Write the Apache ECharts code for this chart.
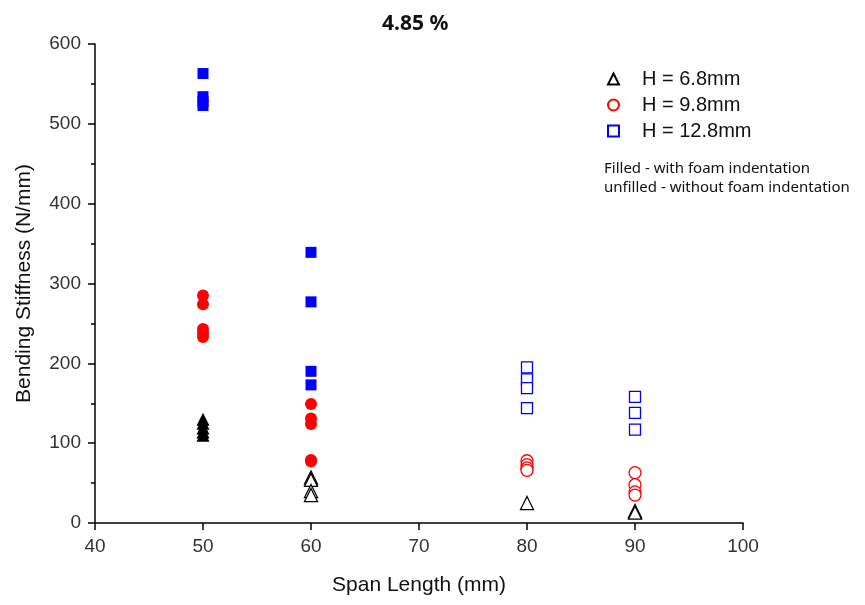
<!DOCTYPE html>
<html>
<head>
<meta charset="utf-8">
<script src="https://cdn.jsdelivr.net/npm/echarts@6/dist/echarts.min.js"></script>
<style>html,body{margin:0;padding:0;background:#fff;}#c{width:865px;height:605px;}</style>
</head>
<body>
<div id="c"></div>
<script>
var titleText = '4.85 %';
var xName = 'Span Length (mm)';
var yName = 'Bending Stiffness (N/mm)';
var legendNames = ['H = 6.8mm', 'H = 9.8mm', 'H = 12.8mm'];
var noteLines = ['Filled - with foam indentation', 'unfilled - without foam indentation'];

// Filled (with foam indentation)
var tri68Filled = [[50,130],[50,125],[50,119],[50,114],[50,110]];
var circ98Filled = [[50,285],[50,274],[50,243],[50,238],[50,233],[60,149],[60,131],[60,124],[60,79],[60,77]];
var sq128Filled = [[50,563],[50,534],[50,528],[50,523],[60,339],[60,277],[60,190],[60,173]];

// Unfilled (without foam indentation)
var tri68Open = [[60,57],[60,54],[60,40],[60,35],[80,25],[90,15],[90,13]];
var circ98Open = [[80,78],[80,73],[80,69],[80,66],[90,63],[90,48],[90,39],[90,35]];
var sq128Open = [[80,195],[80,180],[80,169],[80,144],[90,158],[90,138],[90,117]];

var font = 'Liberation Sans, Arial, sans-serif';
var chart = echarts.init(document.getElementById('c'));
function openSeries(name, sym, size, color, data) {
  return { name: name, type: 'scatter', symbol: sym, symbolSize: size, data: data,
    itemStyle: { color: '#fff', borderColor: color, borderWidth: 1.3, opacity: 1 }, z: 3 };
}
function fillSeries(sym, size, color, data) {
  return { name: 'f_' + sym, type: 'scatter', symbol: sym, symbolSize: size, data: data,
    itemStyle: { color: color, opacity: 1 }, z: 2 };
}
chart.setOption({
  animation: false,
  backgroundColor: '#fff',
  title: { text: titleText, left: 377, top: 9, textStyle: { fontFamily: 'Noto Sans, sans-serif', fontSize: 21, fontWeight: 'bold', color: '#111' } },
  grid: { left: 95, right: 122, top: 44, bottom: 82 },
  legend: {
    data: legendNames, orient: 'vertical', left: 602, top: 64, itemGap: 6,
    itemWidth: 11, itemHeight: 11,
    textStyle: { fontFamily: font, fontSize: 20, color: '#111', padding: [0,0,0,18] }
  },
  graphic: [
    { type: 'text', left: 604, top: 161, style: { text: noteLines[0], fontFamily: 'Noto Sans, sans-serif', fontSize: 15, fill: '#111' } },
    { type: 'text', left: 604, top: 180, style: { text: noteLines[1], fontFamily: 'Noto Sans, sans-serif', fontSize: 15, fill: '#111' } }
  ],
  xAxis: {
    type: 'value', min: 40, max: 100, interval: 10,
    name: xName, nameLocation: 'middle', nameGap: 52,
    nameTextStyle: { fontFamily: font, fontSize: 21, color: '#111' },
    axisLine: { show: true, onZero: false, lineStyle: { color: '#000', width: 1.5 } },
    axisTick: { show: true, inside: false, length: 7, lineStyle: { color: '#000', width: 1.5 } },
    axisLabel: { fontFamily: font, fontSize: 19, color: '#333', margin: 14 },
    splitLine: { show: false }
  },
  yAxis: {
    type: 'value', min: 0, max: 600, interval: 100,
    name: yName, nameLocation: 'middle', nameGap: 60,
    nameTextStyle: { fontFamily: font, fontSize: 21, color: '#111' },
    axisLine: { show: true, onZero: false, lineStyle: { color: '#000', width: 1.5 } },
    axisTick: { show: true, inside: false, length: 7, lineStyle: { color: '#000', width: 1.5 } },
    minorTick: { show: true, splitNumber: 2, length: 4, lineStyle: { color: '#000', width: 1.5 } },
    axisLabel: { fontFamily: font, fontSize: 19, color: '#333', margin: 14 },
    splitLine: { show: false }
  },
  series: [
    openSeries(legendNames[0], 'triangle', 13, '#000', tri68Open),
    openSeries(legendNames[1], 'circle', 12, '#ff0000', circ98Open),
    openSeries(legendNames[2], 'rect', 11, '#0000ff', sq128Open),
    fillSeries('triangle', 13, '#000', tri68Filled),
    fillSeries('circle', 12, '#ff0000', circ98Filled),
    fillSeries('rect', 11, '#0000ff', sq128Filled)
  ]
});
</script>
</body>
</html>
